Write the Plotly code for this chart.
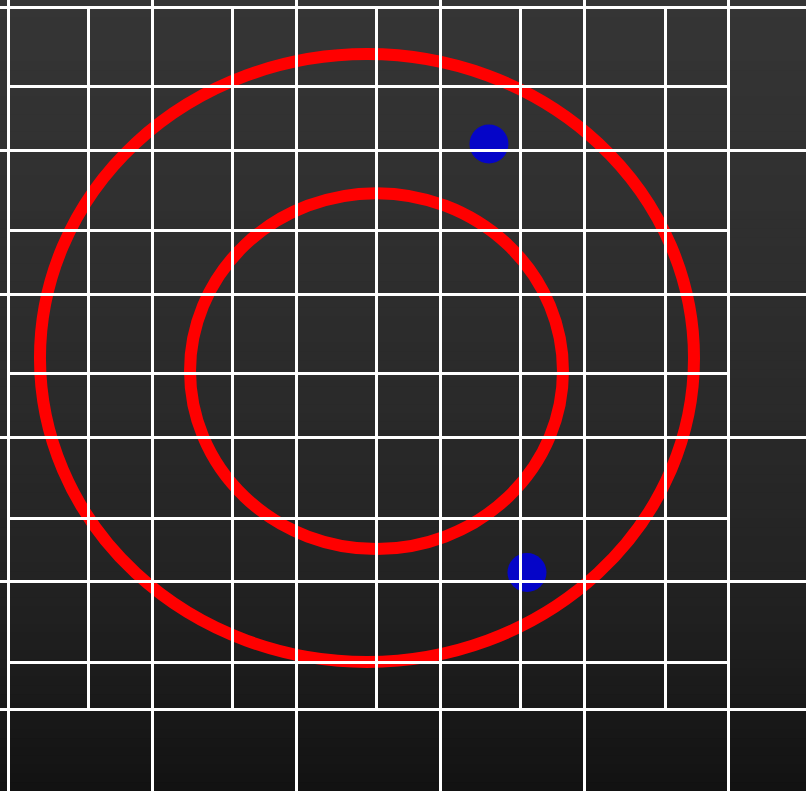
import plotly.graph_objects as go

# ---------------- data (grid units) ----------------
ring_names = ["outer ring", "inner ring"]
ring_cx = [2.493, 2.559]
ring_cy = [2.554, 2.463]
ring_rx = [2.271, 1.295]
ring_ry = [2.118, 1.240]

point_names = ["A", "B"]
point_x = [3.340, 3.604]
point_y = [4.045, 1.059]

major_x_ticks = [0, 1, 2, 3, 4, 5]
major_y_ticks = [0.108, 1, 2, 3, 4, 5]
minor_x_ticks = [0.556, 1.556, 2.556, 3.556, 4.5625]
minor_y_ticks = [0.4355, 1.439, 2.449, 3.446, 4.449]

x_range = [-0.0556, 5.5417]
y_range = [-0.4634, 5.049]
minor_x_range = [0.0, 5.0]
minor_y_range = [0.108, 5.0]

# ---------------- figure ----------------
W, H = 806, 791
fig = go.Figure()

# data subplot (drawn first, so both grids lie on top of it)
fig.add_trace(go.Scatter(
    x=point_x, y=point_y, mode="markers", text=point_names,
    marker=dict(size=39, color="#0505c8", line=dict(width=0)),
    xaxis="x", yaxis="y", hoverinfo="skip", showlegend=False))

# empty traces to create the two grid subplots
fig.add_trace(go.Scatter(x=[None], y=[None], xaxis="x2", yaxis="y2",
                         hoverinfo="skip", showlegend=False))
fig.add_trace(go.Scatter(x=[None], y=[None], xaxis="x3", yaxis="y3",
                         hoverinfo="skip", showlegend=False))

shapes = []
# vertical background gradient (paper coordinates)
stops = [(0.0, 53), (0.25, 48), (0.5, 42), (0.7, 36), (0.85, 28), (1.0, 18)]
def grey_at(t):
    for (t0, v0), (t1, v1) in zip(stops[:-1], stops[1:]):
        if t0 <= t <= t1:
            return v0 + (v1 - v0) * (t - t0) / (t1 - t0)
    return stops[-1][1]
N = 90
for i in range(N):
    t = (i + 0.5) / N
    g = int(round(grey_at(t)))
    shapes.append(dict(type="rect", xref="paper", yref="paper",
                       x0=0, x1=1, y0=1 - (i + 1) / N - 0.002, y1=1 - i / N,
                       fillcolor=f"rgb({g},{g},{g})", line=dict(width=0),
                       layer="below"))

# rings
for cx, cy, rx, ry in zip(ring_cx, ring_cy, ring_rx, ring_ry):
    shapes.append(dict(type="circle", xref="x", yref="y",
                       x0=cx - rx, x1=cx + rx, y0=cy - ry, y1=cy + ry,
                       line=dict(color="#ff0000", width=12),
                       fillcolor="rgba(0,0,0,0)", layer="below"))

hidden = dict(showgrid=False, zeroline=False, showticklabels=False,
              ticks="", showline=False)
grid = dict(showgrid=True, gridcolor="#ffffff", gridwidth=3, zeroline=False,
            showticklabels=False, ticks="", showline=False, tickmode="array")

fig.update_layout(
    width=W, height=H, autosize=False,
    margin=dict(l=0, r=0, t=0, b=0, pad=0),
    paper_bgcolor="#262626", plot_bgcolor="rgba(0,0,0,0)",
    showlegend=False, hovermode=False,
    shapes=shapes,
    xaxis=dict(domain=[0, 1], range=x_range, anchor="y", **hidden),
    yaxis=dict(domain=[0, 1], range=y_range, anchor="x", **hidden),
    xaxis2=dict(domain=[0, 1], range=x_range, anchor="y2",
                tickvals=major_x_ticks, **grid),
    yaxis2=dict(domain=[0, 1], range=y_range, anchor="x2",
                tickvals=major_y_ticks, **grid),
    xaxis3=dict(domain=[8 / W, 728 / W], range=minor_x_range, anchor="y3",
                tickvals=minor_x_ticks, **grid),
    yaxis3=dict(domain=[82 / H, 784 / H], range=minor_y_range, anchor="x3",
                tickvals=minor_y_ticks, **grid),
)

fig.write_html(
    "out.html",
    config={"displayModeBar": False},
    post_script="document.body.style.margin='0';"
                "document.body.style.background='#141414';",
)
